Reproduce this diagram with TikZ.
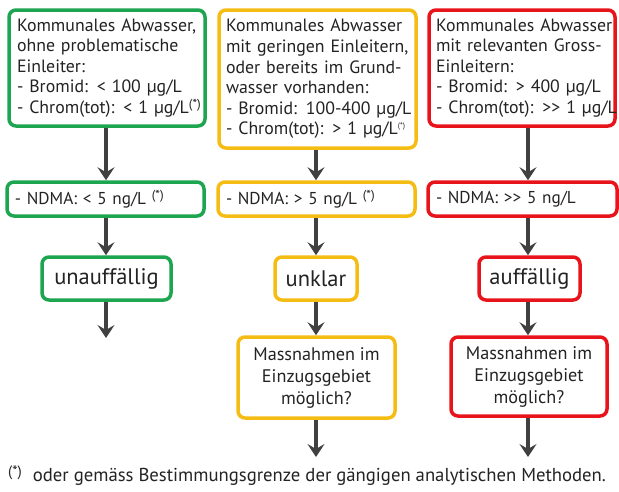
\documentclass[tikz,border=0pt]{standalone}
\usepackage{fontspec}
\setmainfont{PT Sans}
\usetikzlibrary{arrows.meta}
\definecolor{cgreen}{RGB}{30,165,80}
\definecolor{cyellow}{RGB}{245,188,20}
\definecolor{cred}{RGB}{232,20,28}
\definecolor{carrow}{RGB}{64,64,64}
\definecolor{ctext}{RGB}{35,35,35}
\newcommand{\fnmark}{\raisebox{5pt}{\fontsize{13}{13}\selectfont(*)}}
\newcommand{\fnsmallmark}{\raisebox{6pt}{\fontsize{8}{8}\selectfont(*)}}
\newcommand{\tl}[1]{\mbox{#1}}
\begin{document}
\begin{tikzpicture}[x=1pt,y=-1pt,
  box/.style={draw, line width=3.5pt, rounded corners=7pt, fill=white, inner sep=0pt,
    text=ctext, font=\fontsize{17.8}{20.6}\selectfont},
  lbox/.style={box, align=left},
  nbox/.style={box, align=left, font=\fontsize{17.2}{20}\selectfont},
  cbox/.style={box, align=center, font=\fontsize{18.2}{22}\selectfont},
  resbox/.style={box, align=center, font=\fontsize{22.5}{24}\selectfont},
  arr/.style={line width=3.5pt, draw=carrow, -{Stealth[length=13pt,width=17pt,inset=5pt]}}
  ]
\useasboundingbox (0,0) rectangle (619,491);
\fill[white] (0,0) rectangle (619,491);
% column coordinates
\coordinate (c1) at (106,0);
\coordinate (c2) at (316,0);
\coordinate (c3) at (528,0);
% top boxes
\node[lbox, draw=cgreen, minimum width=196, minimum height=116, text width=180] (g1) at (107,68)
  {\tl{Kommunales Abwasser,}\\\tl{ohne problematische}\\\tl{Einleiter:}\\\tl{- Bromid: < 100 µg/L}\\\tl{- Chrom(tot): < 1 µg/L\fnmark}};
\node[lbox, draw=cyellow, minimum width=197, minimum height=138, text width=183] (y1) at (317.5,79)
  {\tl{Kommunales Abwasser}\\\tl{mit geringen Einleitern,}\\\tl{oder bereits im Grund-}\\\tl{wasser vorhanden:}\\\tl{- Bromid: 100-400 µg/L}\\\tl{- Chrom(tot): > 1 µg/L\fnsmallmark}};
\node[lbox, draw=cred, minimum width=186, minimum height=116, text width=172] (r1) at (522,68)
  {\tl{Kommunales Abwasser}\\\tl{mit relevanten Gross-}\\\tl{Einleitern:}\\\tl{- Bromid: > 400 µg/L}\\\tl{- Chrom(tot): >{}> 1 µg/L}};
% NDMA boxes
\node[nbox, draw=cgreen, minimum width=197, minimum height=34, text width=181] (g2) at (105.5,199)
  {\tl{- NDMA: < 5 ng/L \fnmark}};
\node[nbox, draw=cyellow, minimum width=197, minimum height=34, text width=181] (y2) at (316.5,199)
  {\tl{- NDMA: > 5 ng/L \fnmark}};
\node[nbox, draw=cred, minimum width=189, minimum height=34, text width=173] (r2) at (522.5,199)
  {\tl{- NDMA: >{}> 5 ng/L}};
% result boxes
\node[resbox, draw=cgreen, minimum width=129, minimum height=43] (g3) at (106.5,278.5) {unauffällig};
\node[resbox, draw=cyellow, minimum width=82, minimum height=43] (y3) at (316,278.5) {unklar};
\node[resbox, draw=cred, minimum width=101, minimum height=43] (r3) at (529.5,278.5) {auffällig};
% measure boxes
\node[cbox, draw=cyellow, minimum width=157, minimum height=81] (y4) at (316.5,377.5)
  {Massnahmen im\\Einzugsgebiet\\möglich?};
\node[cbox, draw=cred, minimum width=156, minimum height=79] (r4) at (529,376.5)
  {Massnahmen im\\Einzugsgebiet\\möglich?};
% free ends
\coordinate (e1) at (106,338);
\coordinate (e2) at (316,457);
\coordinate (e3) at (528,457);
% arrows
\draw[arr] (g1.south -| c1) -- (g2.north -| c1);
\draw[arr] (y1.south -| c2) -- (y2.north -| c2);
\draw[arr] (r1.south -| c3) -- (r2.north -| c3);
\draw[arr] (g2.south -| c1) -- (g3.north -| c1);
\draw[arr] (y2.south -| c2) -- (y3.north -| c2);
\draw[arr] (r2.south -| c3) -- (r3.north -| c3);
\draw[arr] (g3.south -| c1) -- (e1);
\draw[arr] (y3.south -| c2) -- (y4.north -| c2);
\draw[arr] (r3.south -| c3) -- (r4.north -| c3);
\draw[arr] (y4.south -| c2) -- (e2);
\draw[arr] (r4.south -| c3) -- (e3);
% footnote
\node[anchor=base west, inner sep=0pt, text=ctext, font=\fontsize{18.7}{20}\selectfont] (fn) at (8,481)
  {\raisebox{5pt}{\fontsize{15}{15}\selectfont(*)}\hspace{11pt}oder gemäss Bestimmungsgrenze der gängigen analytischen Methoden.};
\end{tikzpicture}
\end{document}
